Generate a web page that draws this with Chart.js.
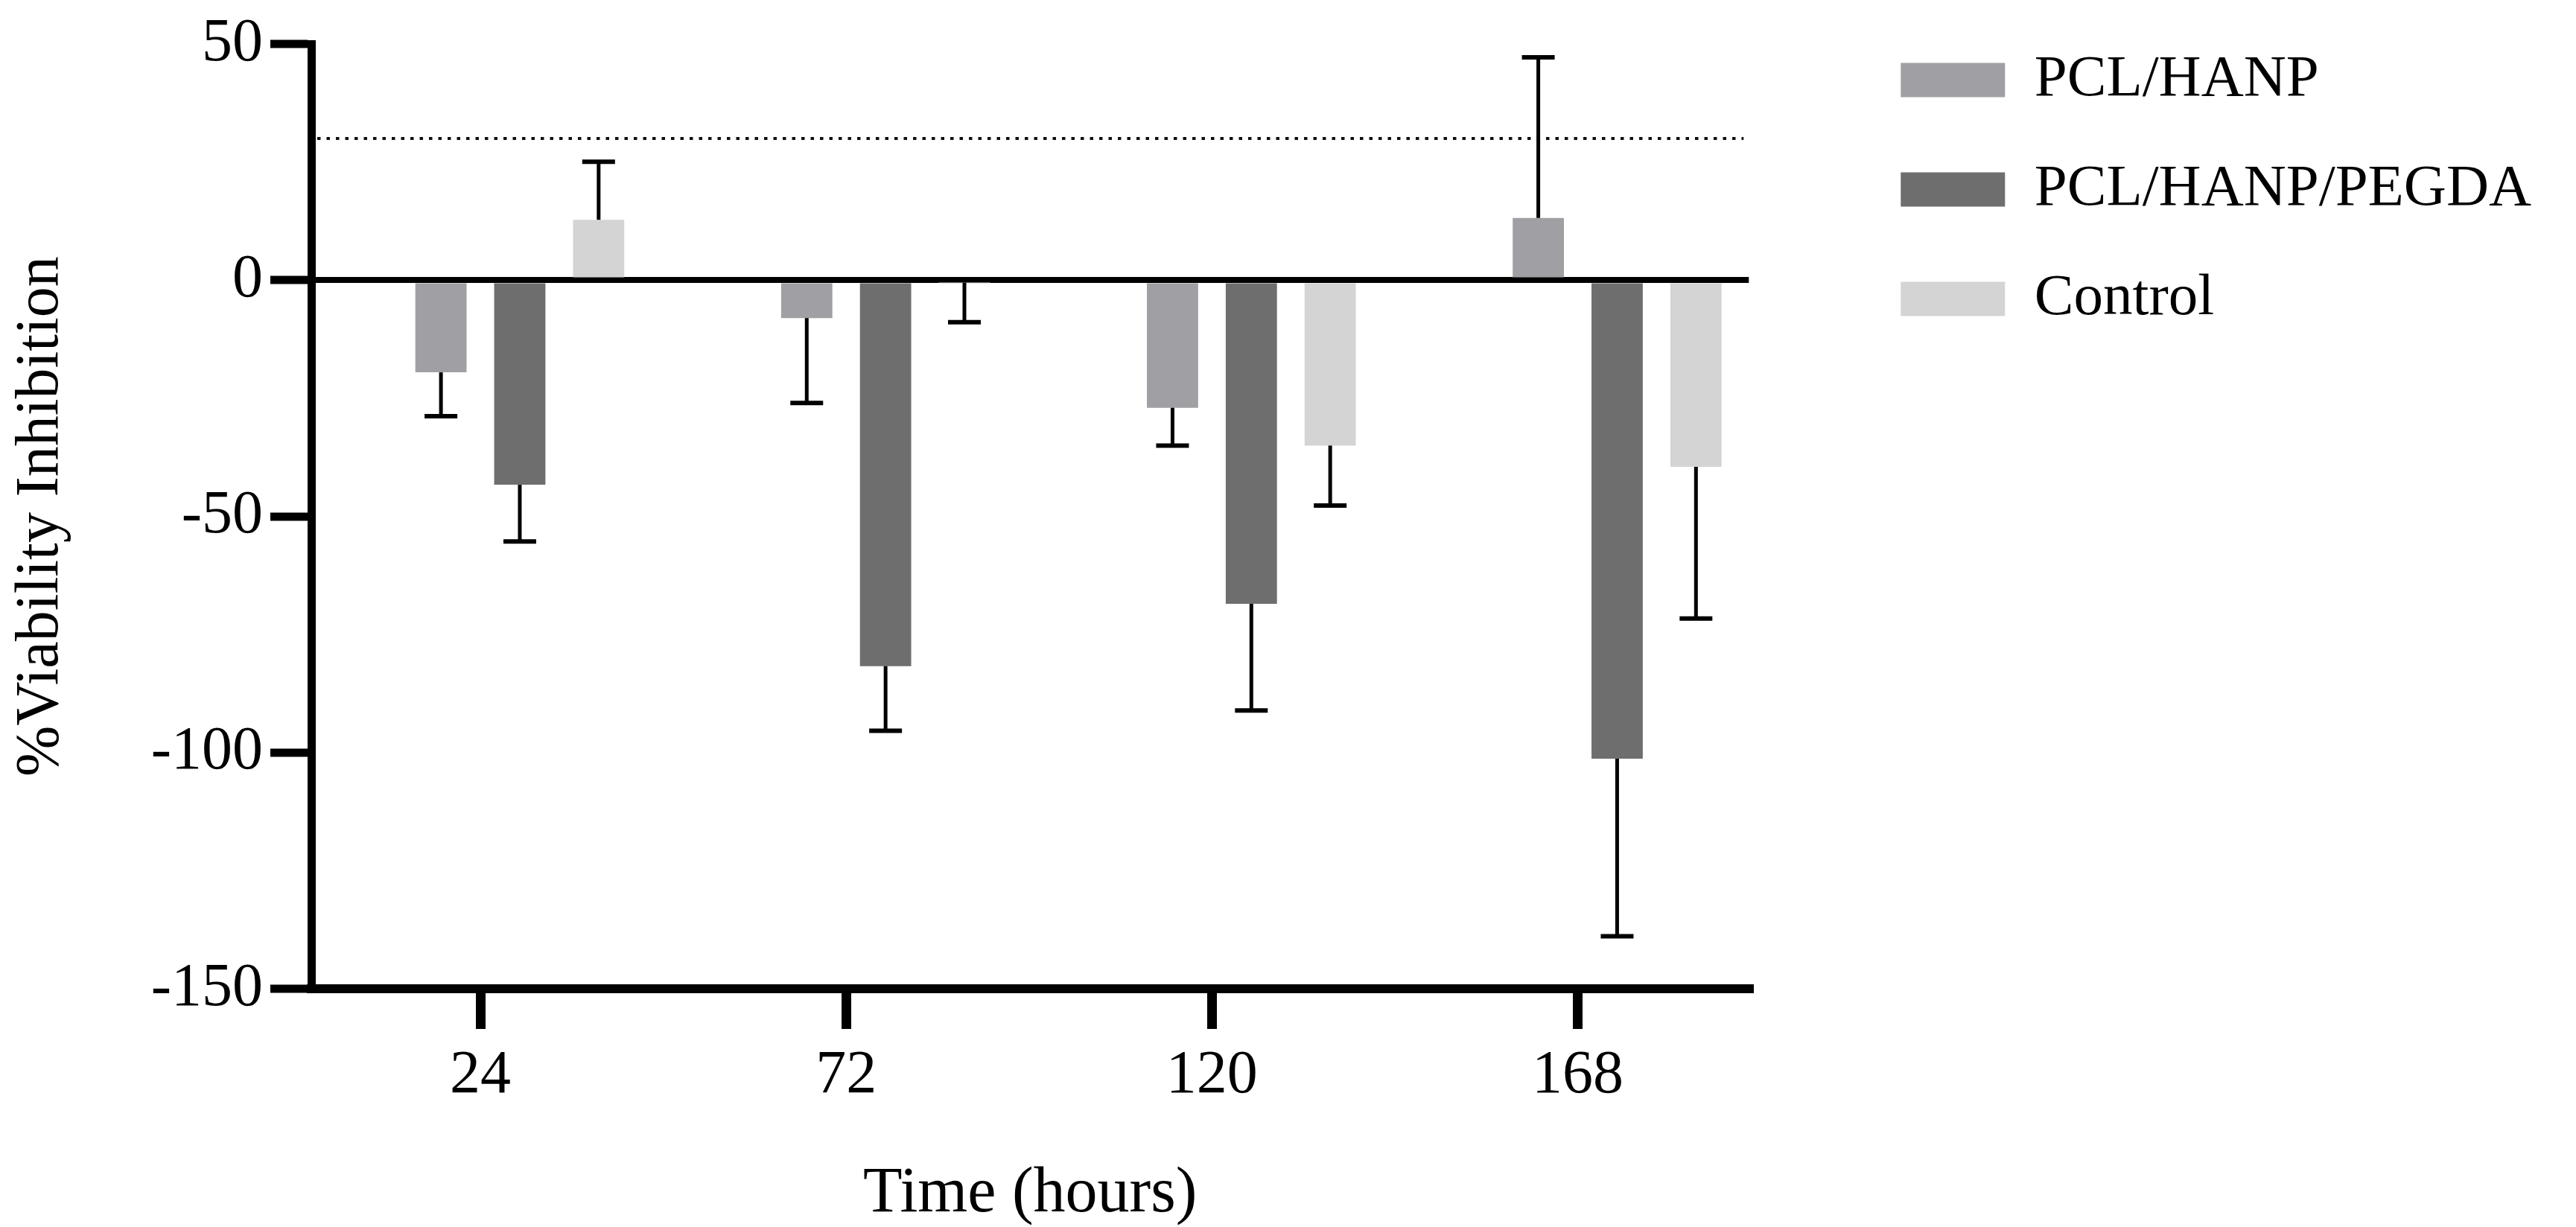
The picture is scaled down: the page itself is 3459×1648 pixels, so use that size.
<!DOCTYPE html>
<html><head><meta charset="utf-8">
<script src="https://cdn.jsdelivr.net/npm/chart.js@4.4.1/dist/chart.umd.min.js"></script>
<style>html,body{margin:0;padding:0;background:#fff;overflow:hidden}canvas{display:block}</style>
</head><body>
<canvas id="c" width="3459" height="1648" style="width:3459px;height:1648px"></canvas>
<script>
// ---- data ----
const categories = ['24', '72', '120', '168'];
const seriesNames = ['PCL/HANP', 'PCL/HANP/PEGDA', 'Control'];
const pclHanp = [-19.5, -8.0, -27.0, 13.2];
const pclHanpPegda = [-43.3, -81.7, -68.5, -101.3];
const control = [12.8, -0.5, -35.0, -39.5];
const pclHanpErr = [9.3, 18.0, 8.0, 34.0];
const pclHanpPegdaErr = [12.0, 13.7, 22.6, 37.6];
const controlErr = [12.3, 8.4, 12.7, 32.1];
const yTicks = [-150, -100, -50, 0, 50];
const threshold = 30;

// ---- styling ----
const FONT = "'Liberation Serif', 'Times New Roman', serif";
const colors = ['#a0a0a4', '#6e6e6e', '#d4d4d4'];
const catPct = 0.6466;
const barPct = 0.65;
const tickShift = catPct / 6;

Chart.defaults.color = '#000';
Chart.defaults.font.family = FONT;

const toPoints = arr => arr.map((v, i) => ({ x: i, y: v }));

const errorBars = {
  id: 'errorBars',
  afterDatasetsDraw(chart) {
    const ctx = chart.ctx, ys = chart.scales.y;
    chart.data.datasets.forEach((ds, di) => {
      const meta = chart.getDatasetMeta(di);
      if (meta.hidden) return;
      meta.data.forEach((bar, i) => {
        const v = ds.data[i].y, e = ds.errors[i];
        const tip = ys.getPixelForValue(v >= 0 ? v + e : v - e);
        ctx.save();
        ctx.strokeStyle = '#000';
        ctx.lineWidth = 5;
        ctx.beginPath(); ctx.moveTo(bar.x, bar.y); ctx.lineTo(bar.x, tip); ctx.stroke();
        ctx.lineWidth = 6;
        ctx.beginPath(); ctx.moveTo(bar.x - 22, tip); ctx.lineTo(bar.x + 22, tip); ctx.stroke();
        ctx.restore();
      });
    });
  }
};

const thresholdLine = {
  id: 'thresholdLine',
  beforeDatasetsDraw(chart) {
    const ctx = chart.ctx, a = chart.chartArea;
    const py = chart.scales.y.getPixelForValue(threshold);
    ctx.save();
    ctx.strokeStyle = '#111';
    ctx.lineWidth = 4;
    ctx.setLineDash([4.5, 8]);
    ctx.beginPath(); ctx.moveTo(a.left + 8, py); ctx.lineTo(a.right - 7, py); ctx.stroke();
    ctx.restore();
  }
};

new Chart(document.getElementById('c'), {
  type: 'bar',
  data: {
    datasets: [
      { label: seriesNames[0], data: toPoints(pclHanp), errors: pclHanpErr, backgroundColor: colors[0], xAxisID: 'x', yAxisID: 'y' },
      { label: seriesNames[1], data: toPoints(pclHanpPegda), errors: pclHanpPegdaErr, backgroundColor: colors[1], xAxisID: 'x', yAxisID: 'y' },
      { label: seriesNames[2], data: toPoints(control), errors: controlErr, backgroundColor: colors[2], xAxisID: 'x', yAxisID: 'y' }
    ]
  },
  options: {
    responsive: false,
    animation: false,
    devicePixelRatio: 1,
    layout: { padding: { left: 0, top: 0, bottom: 0, right: 50 } },
    datasets: { bar: { categoryPercentage: catPct, barPercentage: barPct, borderWidth: 0 } },
    plugins: {
      legend: {
        position: 'right', align: 'start', maxWidth: 1400,
        labels: { font: { size: 79, family: FONT }, color: '#000', boxWidth: 140, boxHeight: 46, padding: 68 }
      },
      tooltip: { enabled: false }
    },
    scales: {
      x: {
        type: 'linear', axis: 'x', position: 'bottom', min: -0.570, max: 3.360, offset: false,
        afterBuildTicks: s => { s.ticks = categories.map((c, i) => ({ value: i - tickShift })); },
        afterFit: s => { s.height = 320; },
        ticks: { callback: (v, i) => categories[i], autoSkip: false, maxRotation: 0, minRotation: 0, padding: 14, color: '#000', font: { size: 82, lineHeight: 1.2 } },
        grid: { display: true, drawOnChartArea: false, drawTicks: true, offset: false, tickLength: 54, tickWidth: 13, tickColor: '#000', color: '#000', lineWidth: 13 },
        border: { display: true, color: '#000', width: 12 },
        title: { display: true, text: 'Time (hours)', color: '#000', font: { size: 86, lineHeight: 1 }, padding: { top: 0, bottom: 1 } }
      },
      xTop: {
        type: 'linear', axis: 'x', position: 'top', display: true,
        ticks: { display: false }, grid: { display: false }, border: { display: false },
        afterFit: s => { s.height = 52; }
      },
      y: {
        type: 'linear', axis: 'y', position: 'left', min: -150, max: 50, z: 1,
        afterBuildTicks: s => { s.ticks = yTicks.map(v => ({ value: v })); },
        afterFit: s => { s.width = 418; },
        ticks: { color: '#000', padding: 10, font: { size: 82 }, callback: v => String(v) },
        grid: {
          drawOnChartArea: true, drawTicks: true,
          color: c => (c.tick && c.tick.value === 0) ? '#000' : 'rgba(0,0,0,0)',
          lineWidth: c => (c.tick && c.tick.value === 0) ? 8 : 0,
          tickColor: '#000', tickWidth: 11, tickLength: 55
        },
        border: { display: true, color: '#000', width: 11 },
        title: { display: true, text: '%Viability Inhibition', color: '#000', font: { size: 82, lineHeight: 1.2 }, padding: { top: 6, bottom: 0 } }
      },
      yRight: {
        type: 'linear', axis: 'y', position: 'right', display: true,
        ticks: { display: false }, grid: { display: false }, border: { display: false },
        afterFit: s => { s.width = 136; }
      }
    }
  },
  plugins: [thresholdLine, errorBars]
});
</script>
</body></html>
